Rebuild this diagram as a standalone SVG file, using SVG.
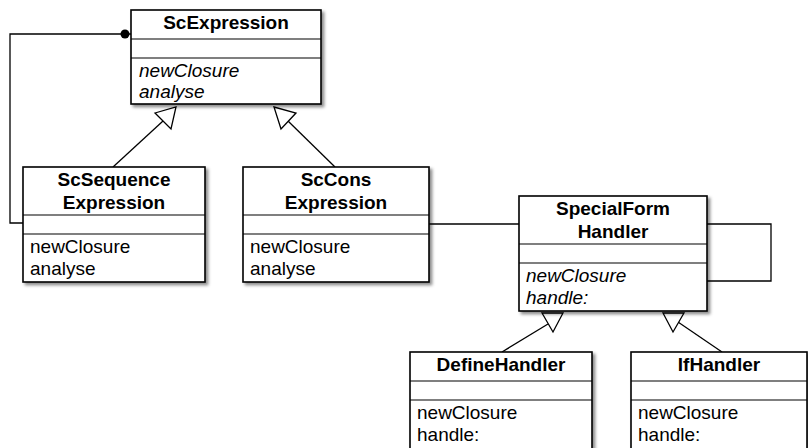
<svg xmlns="http://www.w3.org/2000/svg" width="808" height="448" viewBox="0 0 808 448">
<defs>
<filter id="sh" x="-10%" y="-10%" width="130%" height="130%">
<feDropShadow dx="2.5" dy="2.5" stdDeviation="1.5" flood-color="#000" flood-opacity="0.45"/>
</filter>
<style>
.box{fill:#fff;stroke:#000;stroke-width:1.6;filter:url(#sh)}
.div{stroke:#000;stroke-width:1.2}
.hd{font-family:"Liberation Sans",Arial,sans-serif;font-size:19px;font-weight:bold;text-anchor:middle;fill:#000}
.op{font-family:"Liberation Sans",Arial,sans-serif;font-size:19px;fill:#000}
.ab{font-style:italic}
.ln{fill:none;stroke:#000;stroke-width:1.3}
.tri{fill:#fff;stroke:#000;stroke-width:1.3;stroke-linejoin:miter}
</style>
</defs>
<rect width="808" height="448" fill="#fff"/>

<g id="connectors">
<polyline class="ln" points="23,223 10,223 10,34 131,34"/>
<circle cx="125" cy="34" r="4.5" fill="#000"/>
<line class="ln" x1="113" y1="167" x2="163" y2="121"/>
<polygon class="tri" points="155,113 176,107 171,129"/>
<line class="ln" x1="335" y1="167" x2="288" y2="121"/>
<polygon class="tri" points="274,107 296,113 281,129"/>
<line class="ln" x1="429" y1="224" x2="519" y2="224"/>
<polyline class="ln" points="707,224 771,224 771,281 707,281"/>
<line class="ln" x1="502" y1="352" x2="548" y2="324"/>
<polygon class="tri" points="542,313 563,313 553,332"/>
<line class="ln" x1="722" y1="352" x2="678" y2="322"/>
<polygon class="tri" points="663,313 684,313 673,332"/>
</g>

<g id="ScExpression">
<rect class="box" x="131" y="10" width="190" height="94"/>
<line class="div" x1="131" y1="39" x2="321" y2="39"/>
<line class="div" x1="131" y1="58" x2="321" y2="58"/>
<text class="hd" x="226" y="29">ScExpression</text>
<text class="op ab" x="139" y="77">newClosure</text>
<text class="op ab" x="139" y="98">analyse</text>
</g>

<g id="ScSequenceExpression">
<rect class="box" x="23" y="167" width="182" height="115"/>
<line class="div" x1="23" y1="215" x2="205" y2="215"/>
<line class="div" x1="23" y1="234" x2="205" y2="234"/>
<text class="hd" x="114" y="186">ScSequence</text>
<text class="hd" x="114" y="209">Expression</text>
<text class="op" x="30" y="253">newClosure</text>
<text class="op" x="30" y="275">analyse</text>
</g>

<g id="ScConsExpression">
<rect class="box" x="243" y="167" width="186" height="115"/>
<line class="div" x1="243" y1="215" x2="429" y2="215"/>
<line class="div" x1="243" y1="234" x2="429" y2="234"/>
<text class="hd" x="336" y="186">ScCons</text>
<text class="hd" x="336" y="209">Expression</text>
<text class="op" x="250" y="253">newClosure</text>
<text class="op" x="250" y="275">analyse</text>
</g>

<g id="SpecialFormHandler">
<rect class="box" x="519" y="196" width="188" height="115"/>
<line class="div" x1="519" y1="244" x2="707" y2="244"/>
<line class="div" x1="519" y1="263" x2="707" y2="263"/>
<text class="hd" x="613" y="215">SpecialForm</text>
<text class="hd" x="613" y="238">Handler</text>
<text class="op ab" x="526" y="282">newClosure</text>
<text class="op ab" x="526" y="304">handle:</text>
</g>

<g id="DefineHandler">
<rect class="box" x="410" y="352" width="182" height="110"/>
<line class="div" x1="410" y1="381" x2="592" y2="381"/>
<line class="div" x1="410" y1="400" x2="592" y2="400"/>
<text class="hd" x="501" y="371">DefineHandler</text>
<text class="op" x="417" y="419">newClosure</text>
<text class="op" x="417" y="441">handle:</text>
</g>

<g id="IfHandler">
<rect class="box" x="631" y="352" width="176" height="110"/>
<line class="div" x1="631" y1="381" x2="807" y2="381"/>
<line class="div" x1="631" y1="400" x2="807" y2="400"/>
<text class="hd" x="719" y="371">IfHandler</text>
<text class="op" x="638" y="419">newClosure</text>
<text class="op" x="638" y="441">handle:</text>
</g>
</svg>
